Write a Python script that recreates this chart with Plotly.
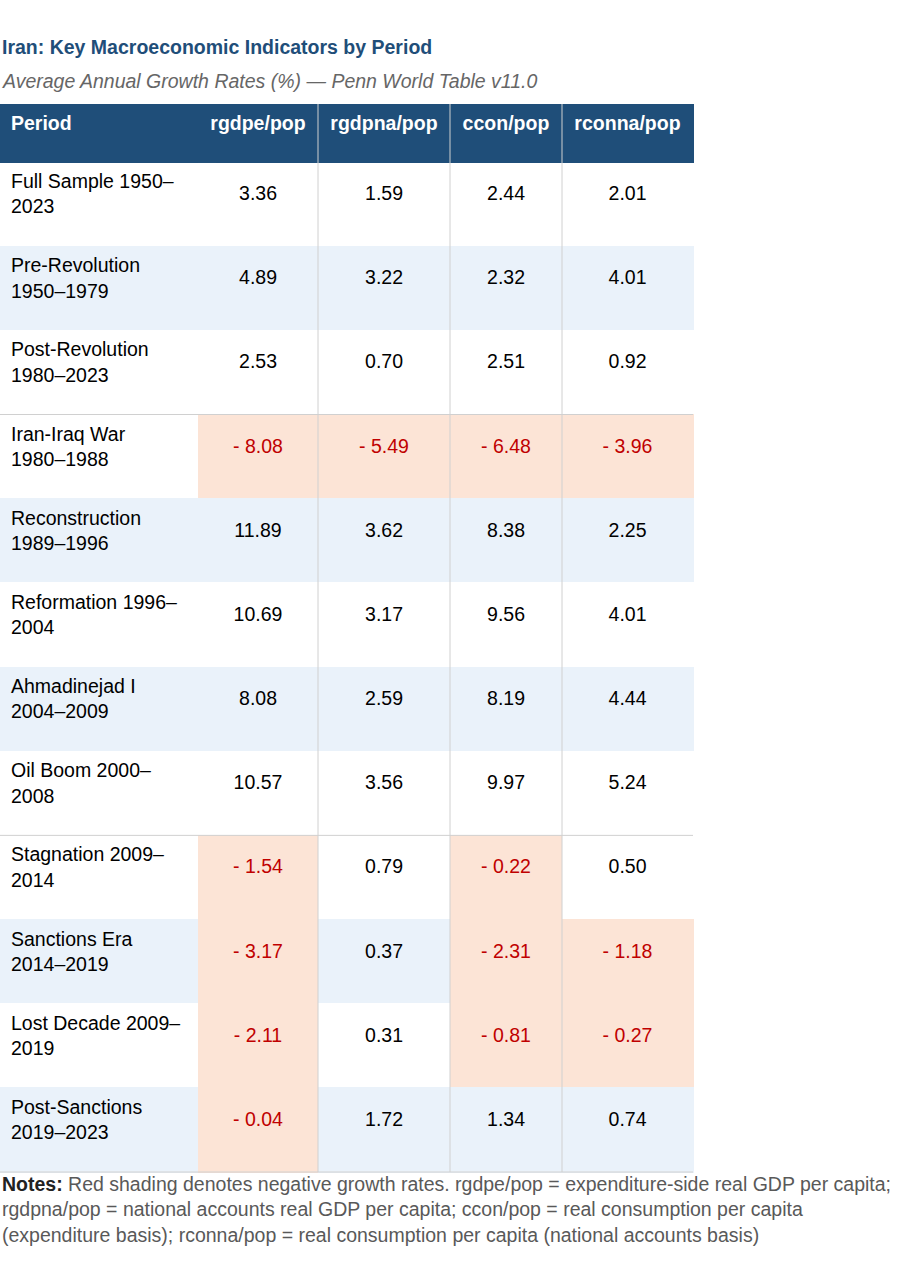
import plotly.graph_objects as go

# ---------------- data ----------------
headers = ["Period", "rgdpe/pop", "rgdpna/pop", "ccon/pop", "rconna/pop"]
periods = [
    "Full Sample 1950–<br>2023",
    "Pre-Revolution<br>1950–1979",
    "Post-Revolution<br>1980–2023",
    "Iran-Iraq War<br>1980–1988",
    "Reconstruction<br>1989–1996",
    "Reformation 1996–<br>2004",
    "Ahmadinejad I<br>2004–2009",
    "Oil Boom 2000–<br>2008",
    "Stagnation 2009–<br>2014",
    "Sanctions Era<br>2014–2019",
    "Lost Decade 2009–<br>2019",
    "Post-Sanctions<br>2019–2023",
]
rgdpe_pop = [3.36, 4.89, 2.53, -8.08, 11.89, 10.69, 8.08, 10.57, -1.54, -3.17, -2.11, -0.04]
rgdpna_pop = [1.59, 3.22, 0.70, -5.49, 3.62, 3.17, 2.59, 3.56, 0.79, 0.37, 0.31, 1.72]
ccon_pop = [2.44, 2.32, 2.51, -6.48, 8.38, 9.56, 8.19, 9.97, -0.22, -2.31, -0.81, 1.34]
rconna_pop = [2.01, 4.01, 0.92, -3.96, 2.25, 4.01, 4.44, 5.24, 0.50, -1.18, -0.27, 0.74]
row_band = [0, 1, 0, 0, 1, 0, 1, 0, 0, 1, 0, 1]

title = "<b>Iran: Key Macroeconomic Indicators by Period</b>"
subtitle = "<i>Average Annual Growth Rates (%) — Penn World Table v11.0</i>"
notes = ("<b style='color:#222222'>Notes:</b> Red shading denotes negative growth rates. rgdpe/pop = expenditure-side real GDP per capita;<br>"
         "rgdpna/pop = national accounts real GDP per capita; ccon/pop = real consumption per capita<br>"
         "(expenditure basis); rconna/pop = real consumption per capita (national accounts basis)")

# ---------------- style ----------------
W, H = 921, 1269
FONT = "Liberation Sans, Arial, sans-serif"
FS = 19.5
HDR = "#1f4e79"
BAND = ["#ffffff", "#eaf2fa"]
NEG_FILL = "#fce4d6"
NEG_TXT = "#c00000"
GRID = "#d0d0d0"
CLEAR = "rgba(0,0,0,0)"
col_w = [198, 120, 132, 112, 131]
table_top = 104
header_h = 58
row_h = 84.17
num_shift = -0.6
label_indent = 3

series = [rgdpe_pop, rgdpna_pop, ccon_pop, rconna_pop]

def fmt(v):
    return f"- {abs(v):.2f}" if v < 0 else f"{v:.2f}"

band_fill = [BAND[b] for b in row_band]
fills = [band_fill] + [[NEG_FILL if v < 0 else band_fill[i] for i, v in enumerate(s)] for s in series]
num_text = [[fmt(v) for v in s] for s in series]
num_color = [[NEG_TXT if v < 0 else "#000000" for v in s] for s in series]

table_w = sum(col_w)
n = len(periods)
top_y = 1 - table_top / H

fig = go.Figure()

# base table: header band, cell fills and the numeric column headers
fig.add_trace(go.Table(
    domain=dict(x=[0, table_w / W], y=[0, top_y]),
    columnwidth=col_w,
    header=dict(
        values=[""] + [f"<b>{h}</b>" for h in headers[1:]],
        fill_color=HDR,
        line=dict(color=HDR, width=1),
        font=dict(family=FONT, size=FS, color="white"),
        align="center",
        height=header_h,
    ),
    cells=dict(
        values=[[""] * n for _ in range(len(col_w))],
        fill_color=fills,
        line=dict(color=fills, width=1),
        font=dict(family=FONT, size=FS, color="#000000"),
        align="center",
        height=row_h,
    ),
))

# period labels column
fig.add_trace(go.Table(
    domain=dict(x=[label_indent / W, col_w[0] / W], y=[0, top_y]),
    columnwidth=[col_w[0] - label_indent],
    header=dict(
        values=[f"<b>{headers[0]}</b>"],
        fill_color=CLEAR,
        line=dict(color=CLEAR, width=0),
        font=dict(family=FONT, size=FS, color="white"),
        align="left",
        height=header_h,
    ),
    cells=dict(
        values=[periods],
        fill_color=CLEAR,
        line=dict(color=CLEAR, width=0),
        font=dict(family=FONT, size=FS, color="#000000"),
        align="left",
        height=row_h,
    ),
))

# numeric values (vertically centred relative to the two-line labels)
fig.add_trace(go.Table(
    domain=dict(x=[col_w[0] / W, table_w / W], y=[0, 1 - (table_top + header_h + num_shift) / H]),
    columnwidth=col_w[1:],
    header=dict(fill_color=CLEAR, line=dict(color=CLEAR, width=0)),
    cells=dict(
        values=num_text,
        fill_color=CLEAR,
        line=dict(color=CLEAR, width=0),
        font=dict(family=FONT, size=FS, color=num_color),
        align="center",
        height=row_h,
    ),
))

# grid lines
shapes = []
body_top = table_top + header_h
body_bot = body_top + n * row_h
xs = [sum(col_w[:k]) for k in range(len(col_w) + 1)]
for k in (2, 3, 4):
    shapes.append(dict(type="line", xref="paper", yref="paper",
                       x0=xs[k] / W, x1=xs[k] / W,
                       y0=top_y, y1=1 - body_bot / H,
                       line=dict(color=GRID, width=1)))
for i in range(1, n + 1):
    if i == n or row_band[i] == row_band[i - 1]:
        yy = 1 - (body_top + i * row_h) / H
        shapes.append(dict(type="line", xref="paper", yref="paper",
                           x0=0, x1=table_w / W, y0=yy, y1=yy,
                           line=dict(color=GRID, width=1)))

annotations = [
    dict(text=title, x=0, y=1 - 47 / H, xref="paper", yref="paper", xanchor="left", yanchor="middle",
         showarrow=False, font=dict(family=FONT, size=FS, color=HDR)),
    dict(text=subtitle, x=0, y=1 - 81 / H, xref="paper", yref="paper", xanchor="left", yanchor="middle",
         showarrow=False, font=dict(family=FONT, size=FS, color="#666666")),
    dict(text=notes, x=0, y=1 - 1171 / H, xref="paper", yref="paper", xanchor="left", yanchor="top",
         align="left", showarrow=False, font=dict(family=FONT, size=FS, color="#595959")),
]

fig.update_layout(
    width=W, height=H,
    margin=dict(l=0, r=0, t=0, b=0),
    paper_bgcolor="white",
    plot_bgcolor="white",
    shapes=shapes,
    annotations=annotations,
)

fig.write_html("out.html", config={"displayModeBar": False},
               post_script="document.body.style.margin='0';")
